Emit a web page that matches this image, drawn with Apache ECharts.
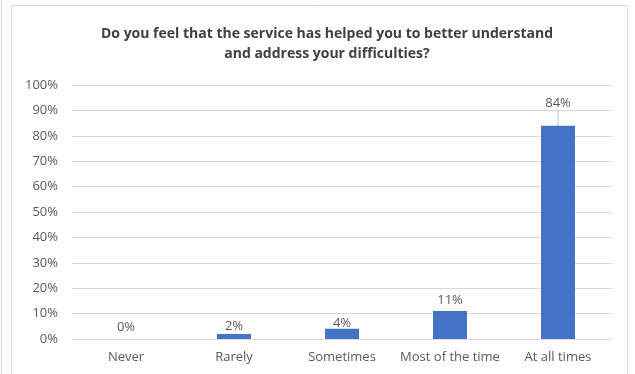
<!DOCTYPE html>
<html>
<head>
<meta charset="utf-8">
<script src="https://cdn.jsdelivr.net/npm/echarts@6/dist/echarts.min.js"></script>
<style>
html,body{margin:0;padding:0;background:#fff;}
#chart{width:635px;height:374px;}
</style>
</head>
<body>
<div id="chart"></div>
<script>
var categories = ['Never', 'Rarely', 'Sometimes', 'Most of the time', 'At all times'];
var values = [0, 2, 4, 11, 84];
var yTicks = [0, 10, 20, 30, 40, 50, 60, 70, 80, 90, 100];

var myChart;
window.onresize = function () {
	if (myChart) {
		myChart.resize();
	}
};

//柱子数据，最后一个(84%)的标签往上挪并带引线
var barData = [];
for (var i = 0; i < values.length; i++) {
	if (i === values.length - 1) {
		barData.push({value: values[i], labelLine: {show: true, lineStyle: {color: '#bfbfbf'}}});
	} else {
		barData.push({value: values[i]});
	}
}

var option = {
	backgroundColor: '#fff',
	animation: false,
	textStyle: {fontFamily: 'Open Sans'},
	title: {
		text: 'Do you feel that the service has helped you to better understand\nand address your difficulties?',
		left: 322,
		top: 19,
		textAlign: 'center',
		textStyle: {
			fontFamily: 'Open Sans',
			fontWeight: 'bold',
			fontSize: 14,
			lineHeight: 20,
			color: '#404040'
		}
	},
	graphic: [
		{type: 'line', shape: {x1: 1.5, y1: 0, x2: 1.5, y2: 374}, style: {stroke: '#d9d9d9', lineWidth: 1}},
		{type: 'rect', shape: {x: 11.5, y: 5.5, width: 616, height: 380}, style: {fill: null, stroke: '#d9d9d9', lineWidth: 1}}
	],
	grid: {
		left: 72,
		right: 23,
		top: 85,
		bottom: 35,
		containLabel: false
	},
	xAxis: {
		type: 'category',
		data: categories,
		axisLine: {lineStyle: {color: '#d9d9d9'}},
		axisTick: {show: false},
		axisLabel: {color: '#595959', fontSize: 13, margin: 12, interval: 0}
	},
	yAxis: {
		type: 'value',
		min: yTicks[0],
		max: yTicks[yTicks.length - 1],
		interval: 10,
		axisLine: {show: false},
		axisTick: {show: false},
		splitLine: {lineStyle: {color: '#d9d9d9'}},
		axisLabel: {color: '#595959', fontSize: 13, margin: 14, formatter: '{value}%'}
	},
	series: [{
		type: 'bar',
		data: barData,
		barWidth: 34,
		itemStyle: {color: '#4472C4'},
		label: {
			show: true,
			position: 'top',
			distance: 4,
			color: '#595959',
			fontSize: 13,
			formatter: '{c}%'
		},
		labelLayout: function (params) {
			var idx = params.dataIndex;
			if (idx === 4) {
				return {dy: -12};
			}
			if (idx === 0) {
				return {dy: -1};
			}
			if (idx === 1) {
				return {dy: 3};
			}
			if (idx === 2) {
				return {dy: 5};
			}
			return {};
		}
	}]
};
myChart = echarts.init(document.getElementById('chart'));
myChart.setOption(option);
</script>
</body>
</html>
